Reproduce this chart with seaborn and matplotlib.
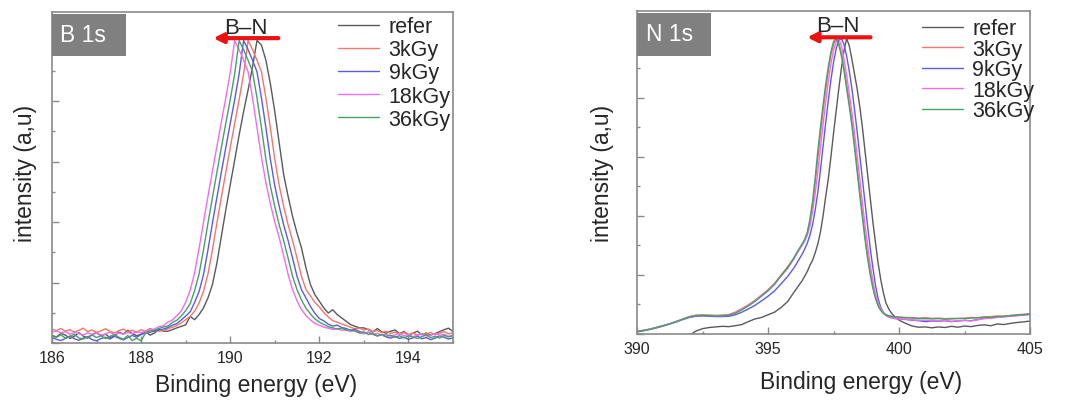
import numpy as np
import pandas as pd
import matplotlib
matplotlib.use("Agg")
import matplotlib.pyplot as plt
from matplotlib.patches import Rectangle
from matplotlib.ticker import MultipleLocator
import seaborn as sns

# samples and line colours
samples = ["refer", "3kGy", "9kGy", "18kGy", "36kGy"]
colors = ["#5a5a5a", "#f2766c", "#5c5ce0", "#f06cf0", "#46a068"]

# ---- B 1s spectra (0.1 eV step, normalised intensity) ----
b1s_energy = np.round(np.arange(186.0, 195.01, 0.1), 1)

b1s_refer = [2.5, 2.0, 3.2, 2.6, 1.5, 2.2, 3.4, 2.3, 1.6, 2.8, 3.5, 2.4, 2.9, 1.8, 2.3, 3.6, 2.9, 4.2, 3.1, 2.4,
             2.9, 3.8, 2.6, 3.3, 4.6, 3.9,
             3.9, 4.4, 5.0, 5.5, 6.0, 8.8, 7.7, 9.4, 11.6, 14.9, 19.3, 26.4, 35.2, 44.0, 52.3, 60.5, 68.8, 76.5,
             83.6, 91.3, 100, 98.5, 93.5, 85.8, 76.5, 66.0, 55.6, 48.4, 41.8, 36.3, 31.4, 24.8, 19.3, 16.0, 13.8,
             11.6, 9.9, 11.0, 9.4, 8.3, 7.2, 6.1, 5.5, 5.0, 5.0,
             4.4, 3.6, 4.8, 3.7, 3.2, 3.9, 4.3, 3.1, 3.8, 2.6, 3.2, 3.9, 2.7, 3.3, 2.6, 3.1, 3.8, 4.4, 4.9, 3.8]
b1s_3kgy = [4.6, 4.1, 4.8, 3.9, 4.4, 3.6, 4.2, 4.9, 3.8, 4.3, 3.5, 4.0, 4.7, 3.9, 3.3, 4.1, 4.6, 3.7, 4.2, 3.6,
            4.4, 3.9, 4.8, 4.2,
            3.9, 4.1, 4.7, 5.2, 5.8, 6.6, 7.7, 8.8, 10.5, 13.2, 17.1, 22.8, 30.8, 39.6, 48.1, 56.4, 64.6, 72.6,
            80.5, 89, 100, 97, 93.5, 89.7, 81.1, 71.2, 60.8, 52, 45.1, 39, 33.8, 28, 22, 17.6, 15.6, 13.4, 11.9,
            10.1, 8.6, 7.4, 6.9, 6.3, 5.8, 5.2, 4.7,
            4.9, 4.3, 4.6, 3.8, 4.1, 3.5, 3.9, 3.2, 3.6, 3.0, 3.4, 2.8, 3.3, 2.6, 3.1, 2.9, 3.5, 2.7, 3.2, 3.8,
            3.0, 3.4]
b1s_9kgy = [1.8, 1.2, 0.8, 1.5, 2.3, 1.4, 0.9, 1.6, 2.1, 1.1, 0.7, 1.5, 1.9, 1.3, 2.2, 1.6, 1.0, 1.8, 2.5, 1.9,
            2.8, 3.3, 3.6,
            3.9, 4.3, 4.6, 5.1, 5.9, 6.4, 7.6, 8.9, 10.3, 13.4, 17.0, 22.6, 30.8, 39.6, 48.1, 56.4, 64.6, 72.6,
            80.5, 89, 100, 97, 93.5, 89.7, 81.1, 71.2, 60.8, 52, 45.1, 39, 33.8, 28, 22, 17.6, 14.9, 12.1, 9.8,
            8.1, 7.3, 6.2, 5.6, 5.9, 5.1, 4.8, 4.2,
            4.5, 3.8, 3.2, 3.6, 2.9, 2.3, 2.7, 2.0, 1.6, 2.2, 1.5, 1.9, 1.2, 1.7, 2.3, 1.4, 1.8, 1.1, 1.6, 2.4,
            1.9, 1.3, 1.7]
b1s_18kgy = [3.6, 4.0, 3.3, 3.8, 2.9, 3.5, 3.1, 2.6, 3.4, 2.8, 3.2, 2.5, 3.0, 3.6, 2.7, 3.3, 2.9, 3.5, 3.1, 3.7,
             3.4,
             3.8, 4.3, 4.6, 5.4, 5.7, 6.9, 7.6, 9.0, 10.6, 13.5, 17.4, 23.2, 31.2, 40.0, 48.5, 56.8, 65.0, 73.0,
             81.0, 89.5, 100, 97, 93.5, 89.7, 81.1, 71.2, 61.5, 53, 46.1, 40, 34.8, 28.8, 22.6, 17.6, 13.9, 11.0,
             9.1, 7.6, 6.5, 5.9, 5.2, 4.9, 4.5, 4.7, 4.2,
             4.3, 3.8, 4.1, 3.4, 3.0, 3.5, 2.8, 3.2, 2.5, 2.9, 2.2, 2.7, 3.1, 2.4, 2.8, 2.1, 2.6, 3.0, 2.3, 2.7,
             3.2, 2.5, 2.9, 2.2, 2.6]
b1s_36kgy = [2.3, 1.9, 2.7, 1.6, 2.1, 2.9, 1.7, 1.3, 2.0, 2.6, 1.8, 2.4, 1.5, 2.2, 2.8, 1.9, 1.2, 2.5, 0.8, 1.6,
             0.7, 3.4,
             3.9, 4.2, 4.8, 5.3, 5.6, 6.8, 7.5, 8.9, 10.7, 13.0, 17.3, 22.8, 30.8, 39.6, 48.1, 56.4, 64.6, 72.6,
             80.5, 89, 100, 97, 93.5, 89.7, 81.1, 71.2, 60.8, 52, 45.1, 39, 33.8, 28, 22, 17.6, 14.2, 11.5, 9.6,
             8.0, 6.9, 6.1, 5.4, 5.0, 4.6, 4.9, 4.3,
             4.4, 3.9, 3.3, 3.7, 2.8, 3.1, 2.4, 2.9, 2.2, 2.6, 1.9, 2.4, 1.7, 2.3, 2.0, 1.5, 2.1, 2.7, 1.8, 2.2,
             1.6, 2.5, 2.0, 2.4]

# ---- N 1s spectra (0.25 eV step in the wings, 0.1 eV over the peak) ----
n1s_energy = np.round(np.r_[np.arange(390, 396, 0.25), np.arange(396, 400.05, 0.1),
                            np.arange(400.25, 405.01, 0.25)], 2)

n1s_refer = [-6.0, -5.5, -5.0, -4.5, -4.0, -3.5, -2.8, -1.8, -0.4, 1.0, 1.8, 2.2, 2.4, 2.6, 2.5, 2.8, 3.2, 4.2,
             5.1, 5.6, 6.5, 7.4, 9.0, 11.0,
             14.3, 15.5, 16.8, 18.0, 19.6, 21.2, 23.3, 25.0, 27.5, 30.5, 34.5, 40, 46.5, 52.5, 60, 68, 75.5, 83,
             90, 96, 100, 97.5, 93, 88, 83, 77, 70, 62, 54, 46, 38, 31, 24, 18.5, 14, 10.5, 8.6, 7.2, 6.2, 5.4,
             4.7,
             3.6, 2.7, 2.3, 2.4, 2.1, 2.4, 2.2, 2.6, 2.3, 2.7, 2.5, 2.9, 3.1, 2.8, 3.4, 3.2, 3.6, 3.9, 4.1, 4.4]
n1s_3kgy = [0.9, 1.3, 1.7, 2.3, 2.9, 3.5, 4.3, 5.1, 5.9, 6.4, 6.5, 6.4, 6.3, 6.4, 6.6, 7.4, 8.6, 9.9, 11.4,
            13.2, 15.0, 17.2, 20.0, 22.8,
            25.8, 27.4, 28.9, 30.3, 31.8, 34.0, 38.0, 43.5, 51.0, 59.5, 67.5, 75.5, 82.5, 89, 94.5, 98, 100,
            98.5, 95, 90, 84.5, 78.5, 72, 64.5, 56.5, 48.5, 41, 33.5, 26.5, 21, 16.3, 12.6, 9.9, 8.2, 7.1, 6.5,
            6.2, 6.0, 5.8, 5.8, 5.7,
            5.6, 5.5, 5.4, 5.5, 5.3, 5.4, 5.2, 5.3, 5.2, 5.4, 5.6, 5.5, 5.8, 5.9, 6.1, 6.0, 6.3, 6.5, 6.7, 6.9]
n1s_9kgy = [0.7, 1.1, 1.6, 2.1, 2.7, 3.4, 4.1, 4.9, 5.6, 6.0, 6.1, 6.0, 5.9, 5.9, 6.0, 6.5, 7.4, 8.5, 9.7,
            11.2, 12.8, 14.6, 17.0, 19.5,
            22.5, 24.0, 25.5, 27.0, 28.8, 30.8, 33.5, 37.0, 42.0, 48.0, 55.5, 63.5, 71.5, 79, 86, 92, 96.5,
            99.5, 100, 98, 94, 89, 83, 76, 68.5, 60.5, 52.5, 44.5, 36.5, 29, 22.5, 16.5, 12, 9, 7.3, 6.3, 5.8,
            5.5, 5.3, 5.2, 5.1,
            4.9, 4.7, 4.5, 4.2, 4.4, 4.3, 4.5, 4.2, 4.4, 4.6, 4.5, 4.9, 5.3, 5.5, 5.7, 5.9, 6.1, 6.3, 6.5, 6.6]
n1s_18kgy = [0.8, 1.2, 1.7, 2.2, 2.8, 3.5, 4.2, 5.0, 5.8, 6.2, 6.3, 6.3, 6.2, 6.2, 6.4, 7.2, 8.4, 9.8, 11.3,
             13.0, 14.9, 17.0, 19.6, 22.2,
             25.5, 27.2, 28.6, 30.0, 31.5, 33.5, 36.5, 41.5, 47.5, 55, 63, 71, 78.5, 85.5, 91.5, 96, 99, 100,
             97.5, 93, 87.5, 81.5, 75, 68, 60.5, 52.5, 44.5, 37, 30, 23.5, 18, 13.5, 10.5, 8.5, 7.2, 6.5, 6,
             5.6, 5.3, 5.2, 5.1,
             5.0, 4.8, 4.6, 4.7, 4.5, 4.4, 4.6, 4.3, 4.5, 4.6, 4.4, 4.8, 5.2, 5.4, 5.6, 5.8, 6.0, 6.2, 6.4, 6.7]
n1s_36kgy = [0.8, 1.2, 1.6, 2.2, 2.8, 3.4, 4.2, 5.0, 5.8, 6.2, 6.3, 6.2, 6.1, 6.2, 6.3, 7.0, 8.2, 9.5, 11.0,
             12.8, 14.6, 16.8, 19.8, 22.5,
             26.0, 27.6, 29.0, 30.5, 32.0, 34.5, 39.0, 45.0, 53.0, 62.0, 70.0, 77.5, 84.5, 90.5, 95.5, 99, 100,
             98, 94, 89, 83, 77, 70.5, 63, 55, 47, 39.5, 32, 25.5, 20, 15.5, 12, 9.5, 8, 7, 6.5, 6.2, 6, 5.8,
             5.8, 5.7,
             5.5, 5.4, 5.2, 5.3, 5.1, 5.2, 5.0, 5.1, 5.3, 5.2, 5.4, 5.5, 5.7, 5.6, 5.9, 6.0, 6.2, 6.4, 6.5, 6.8]


def long_table(energy, series):
    return pd.DataFrame({
        "energy": np.tile(energy, len(series)),
        "intensity": np.concatenate([np.asarray(s, dtype=float) for s in series]),
        "sample": np.repeat(samples, len(energy)),
    })


b1s = long_table(b1s_energy, [b1s_refer, b1s_3kgy, b1s_9kgy, b1s_18kgy, b1s_36kgy])
n1s = long_table(n1s_energy, [n1s_refer, n1s_3kgy, n1s_9kgy, n1s_18kgy, n1s_36kgy])

sns.set_style("white")
plt.rcParams["font.family"] = ["Liberation Sans", "DejaVu Sans"]

spine_col = "#8a8a8a"
fig = plt.figure(figsize=(10.75, 4.1), dpi=100)
ax1 = fig.add_axes([0.0484, 0.161, 0.373, 0.807])
ax2 = fig.add_axes([0.5926, 0.1829, 0.3656, 0.7878])

panels = [
    dict(ax=ax1, df=b1s, xlim=(186, 195), major=2, minor=1, ytop=109.4, tag="B 1s",
         box=(0.0, 0.868, 0.184, 0.126), tag_xy=(0.02, 0.931),
         arrow=(191.08, 189.62, 100.8), bn=(190.34, 104.3),
         xlab=(0.51, -0.0906), ylab=(-0.037, 0.514), leg=(0.713, 0.988), lsp=0.1),
    dict(ax=ax2, df=n1s, xlim=(390, 405), major=5, minor=2.5, ytop=109.3, tag="N 1s",
         box=(0.0, 0.862, 0.188, 0.133), tag_xy=(0.023, 0.929),
         arrow=(398.91, 396.49, 100.4), bn=(397.67, 104.5),
         xlab=(0.569, -0.111), ylab=(-0.0585, 0.499), leg=(0.7244, 0.978), lsp=-0.02),
]

for p in panels:
    ax = p["ax"]
    sns.lineplot(data=p["df"], x="energy", y="intensity", hue="sample", hue_order=samples,
                 palette=colors, linewidth=1.0, estimator=None, sort=False, ax=ax)
    ax.set_xlim(*p["xlim"])
    ax.set_ylim(0, p["ytop"])
    ax.xaxis.set_major_locator(MultipleLocator(p["major"]))
    ax.xaxis.set_minor_locator(MultipleLocator(p["minor"]))
    ax.yaxis.set_major_locator(MultipleLocator(20))
    ax.yaxis.set_minor_locator(MultipleLocator(10))
    ax.tick_params(which="both", direction="in", color=spine_col, top=False, right=False,
                   left=True, bottom=True, labelleft=False)
    ax.tick_params(which="major", length=5, width=1)
    ax.tick_params(which="minor", length=2.5, width=1)
    ax.tick_params(axis="x", labelsize=11.5, pad=5)
    for s in ax.spines.values():
        s.set_color(spine_col)
        s.set_linewidth(1.2)

    ax.set_xlabel("Binding energy (eV)", fontsize=16.5)
    ax.set_ylabel("intensity (a,u)", fontsize=16.5)
    ax.xaxis.set_label_coords(*p["xlab"])
    ax.yaxis.set_label_coords(*p["ylab"])

    # grey sample tag
    bx, by, bw, bh = p["box"]
    ax.add_patch(Rectangle((bx, by), bw, bh, transform=ax.transAxes, facecolor="#808080",
                           edgecolor="none", zorder=5, clip_on=False))
    ax.text(*p["tag_xy"], p["tag"], transform=ax.transAxes, color="white", fontsize=16.5,
            ha="left", va="center", zorder=6)

    # B-N shift arrow
    x0, x1, ya = p["arrow"]
    ax.annotate("", xy=(x1, ya), xytext=(x0, ya),
                arrowprops=dict(arrowstyle="-|>", color="#ee1111", lw=3, mutation_scale=14,
                                shrinkA=0, shrinkB=0))
    ax.text(*p["bn"], "B\u2013N", ha="center", va="center", fontsize=16)

    handles, labels = ax.get_legend_handles_labels()
    ax.legend(handles, labels, loc="upper left", bbox_to_anchor=p["leg"], frameon=False,
              fontsize=15.5, handlelength=1.9, handletextpad=0.45, labelspacing=p["lsp"],
              borderpad=0, borderaxespad=0)

fig.savefig("out.png", dpi=100)
